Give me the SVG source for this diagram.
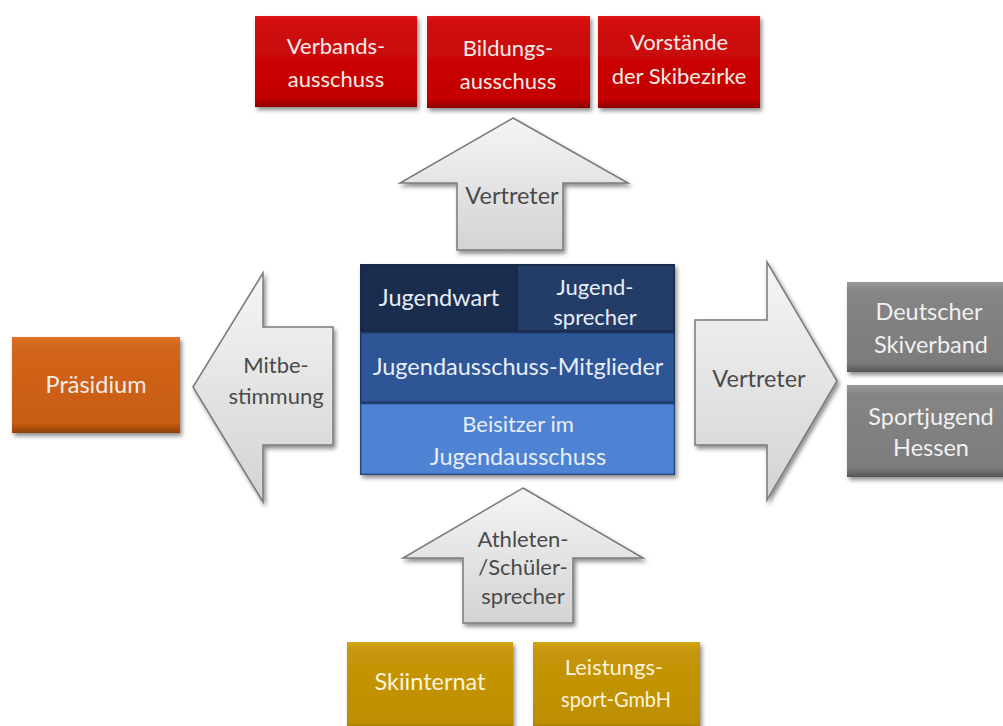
<svg xmlns="http://www.w3.org/2000/svg" width="1003" height="726" viewBox="0 0 1003 726">
<defs>
<style>
text{font-family:Lato,"Liberation Sans",sans-serif;font-size:22px;text-anchor:middle}
.big{font-size:23.5px}
.lt{fill:#f4ece8}
.wt{fill:#e8eef8}
.gy{fill:#f0f0f0}
.gd{fill:#fbf3dc}
.dk{fill:#4a4a4a}
.bx{filter:url(#sh)}
.ar{fill:url(#gArrow);stroke:#7a7a7a;stroke-width:1.5;filter:url(#sh)}
</style>
<filter id="sh" x="-10%" y="-10%" width="125%" height="130%">
<feDropShadow dx="2" dy="3" stdDeviation="2" flood-color="#000" flood-opacity="0.45"/>
</filter>
<linearGradient id="gArrow" x1="0" y1="0" x2="0" y2="1">
<stop offset="0" stop-color="#f5f5f5"/><stop offset="1" stop-color="#d3d3d3"/>
</linearGradient>
<linearGradient id="gRed" x1="0" y1="0" x2="0" y2="1">
<stop offset="0" stop-color="#e01515"/><stop offset="0.1" stop-color="#cf0a0a"/><stop offset="0.9" stop-color="#c40202"/><stop offset="1" stop-color="#8e0000"/>
</linearGradient>
<linearGradient id="gOrange" x1="0" y1="0" x2="0" y2="1">
<stop offset="0" stop-color="#e07428"/><stop offset="0.1" stop-color="#d2651b"/><stop offset="0.9" stop-color="#c85c12"/><stop offset="1" stop-color="#90400a"/>
</linearGradient>
<linearGradient id="gGrey" x1="0" y1="0" x2="0" y2="1">
<stop offset="0" stop-color="#999"/><stop offset="0.1" stop-color="#858585"/><stop offset="0.9" stop-color="#7c7c7c"/><stop offset="1" stop-color="#555"/>
</linearGradient>
<linearGradient id="gGold" x1="0" y1="0" x2="0" y2="1">
<stop offset="0" stop-color="#d4a414"/><stop offset="0.1" stop-color="#c69608"/><stop offset="0.9" stop-color="#bd8e00"/><stop offset="1" stop-color="#8a6800"/>
</linearGradient>
</defs>
<rect width="1003" height="726" fill="#fff"/>

<g id="connectors">
<polygon id="arrow-up-top" class="ar" points="513,118 628,183 563,183 563,250 457,250 457,183 400,183"/>
<text class="dk big" x="512" y="204">Vertreter</text>
<polygon id="arrow-left" class="ar" points="193,387 263,273 263,327 333,327 333,445 263,445 263,502"/>
<text class="dk" x="276" y="373">Mitbe-</text>
<text class="dk" x="276" y="404">stimmung</text>
<polygon id="arrow-right" class="ar" points="695,320 767,320 767,262 837,381 767,500 767,445 695,445"/>
<text class="dk big" x="759" y="387">Vertreter</text>
<polygon id="arrow-up-bottom" class="ar" points="523,488 643,558 573,558 573,623 463,623 463,558 403,558"/>
<text class="dk" x="523" y="547">Athleten-</text>
<text class="dk" x="523" y="575">/Schüler-</text>
<text class="dk" x="523" y="604">sprecher</text>
</g>

<g id="verbandsausschuss">
<rect class="bx" x="255" y="16" width="162" height="91" fill="url(#gRed)"/>
<text class="lt" x="336" y="54">Verbands-</text>
<text class="lt" x="336" y="87">ausschuss</text>
</g>
<g id="bildungsausschuss">
<rect class="bx" x="427" y="16" width="163" height="92" fill="url(#gRed)"/>
<text class="lt" x="508" y="56">Bildungs-</text>
<text class="lt" x="508" y="89">ausschuss</text>
</g>
<g id="vorstaende">
<rect class="bx" x="598" y="16" width="162" height="92" fill="url(#gRed)"/>
<text class="lt" x="679" y="50">Vorstände</text>
<text class="lt" x="679" y="84">der Skibezirke</text>
</g>

<g id="praesidium">
<rect class="bx" x="12" y="337" width="168" height="96" fill="url(#gOrange)"/>
<text class="lt big" x="96" y="393">Präsidium</text>
</g>

<g id="jugendausschuss">
<rect class="bx" x="360" y="264" width="315" height="211" fill="#1f3458"/>
<g id="jugendwart">
<rect x="361" y="265" width="156" height="66" fill="#1b2d4e" stroke="#15233d" stroke-width="1"/>
<text class="wt big" x="439" y="306">Jugendwart</text>
</g>
<g id="jugendsprecher">
<rect x="517" y="265" width="157" height="66" fill="#243d68" stroke="#15233d" stroke-width="1"/>
<text class="wt" x="595" y="295">Jugend-</text>
<text class="wt" x="595" y="325">sprecher</text>
</g>
<g id="mitglieder">
<rect x="361" y="333" width="313" height="69" fill="#2e5596" stroke="#1f3c6e" stroke-width="1"/>
<text class="wt big" x="518" y="375">Jugendausschuss-Mitglieder</text>
</g>
<g id="beisitzer">
<rect x="361" y="404" width="313" height="70" fill="#4e82d2" stroke="#2f5a9a" stroke-width="1"/>
<text class="wt" x="518" y="432">Beisitzer im</text>
<text class="wt big" x="518" y="465">Jugendausschuss</text>
</g>
</g>

<g id="dsv">
<rect class="bx" x="847" y="282" width="160" height="90" fill="url(#gGrey)"/>
<text class="gy big" x="929" y="320">Deutscher</text>
<text class="gy big" x="931" y="353">Skiverband</text>
</g>
<g id="sportjugend">
<rect class="bx" x="847" y="385" width="160" height="92" fill="url(#gGrey)"/>
<text class="gy big" x="931" y="425">Sportjugend</text>
<text class="gy big" x="931" y="456">Hessen</text>
</g>

<g id="skiinternat">
<rect class="bx" x="347" y="642" width="166" height="90" fill="url(#gGold)"/>
<text class="gd big" x="430" y="690">Skiinternat</text>
</g>
<g id="leistungssport">
<rect class="bx" x="533" y="642" width="167" height="90" fill="url(#gGold)"/>
<text class="gd" x="614" y="675">Leistungs-</text>
<text class="gd" x="616" y="707" textLength="110" lengthAdjust="spacingAndGlyphs">sport-GmbH</text>
</g>
</svg>
